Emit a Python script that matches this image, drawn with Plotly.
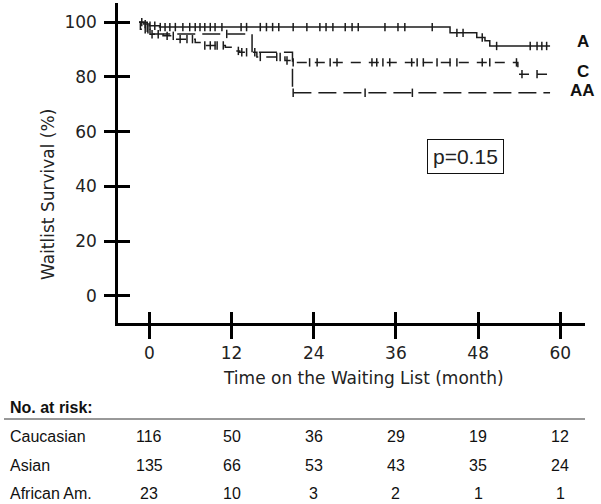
import plotly.graph_objects as go

# ---------------- data ----------------
# Kaplan-Meier step curves: time (months) and survival (%)
asian_t = [-1.5, -0.8, 0.0, 1.5, 43.9, 47.8, 49.0, 49.7, 58.5]
asian_s = [100, 99.3, 98.7, 98.2, 96.1, 94.4, 93.2, 91.3, 91.3]
asian_cens = [-1.1, -0.6, 0.1, 0.8, 1.6, 2.3, 3.0, 3.8, 4.9, 5.9, 6.7, 7.4, 8.1,
              8.9, 9.6, 10.6, 13.4, 14.2, 16.2, 17.1, 18.0, 18.9, 21.0, 23.0,
              24.9, 25.8, 26.8, 28.6, 29.6, 30.5, 34.4, 36.3, 37.3, 41.3, 44.9,
              45.8, 48.6, 50.7, 55.6, 56.6, 57.3, 58.0]

cauc_t = [-1.5, -1.3, 0.1, 2.0, 4.0, 6.7, 8.1, 11.1, 12.5, 13.2, 15.7, 19.8, 20.8, 53.8, 58.5]
cauc_s = [100, 97.4, 95.6, 95.0, 93.8, 92.6, 91.5, 90.8, 89.5, 89.0, 87.3, 86.0, 85.3, 81.0, 81.0]
cauc_cens = [-0.6, -0.2, 0.4, 1.3, 2.6, 3.5, 4.5, 5.5, 6.3, 8.1, 8.9, 9.6, 9.9,
             10.8, 13.0, 13.5, 14.2, 15.4, 16.2, 18.6, 19.1, 20.1, 21.0, 23.4,
             24.5, 26.4, 27.4, 32.5, 33.2, 34.1, 35.1, 38.3, 39.1, 40.0, 42.0,
             43.9, 44.9, 48.6, 49.7, 53.6, 54.4, 56.6]

aa_t = [-1.5, -0.3, 15.0, 20.9, 58.5]
aa_s = [100, 95.7, 89.0, 74.2, 74.2]
aa_cens = [11.3, 21.0, 31.5, 38.4]

x_ticks = [0, 12, 24, 36, 48, 60]
y_ticks = [0, 20, 40, 60, 80, 100]

risk_groups = ["Caucasian", "Asian", "African Am."]
risk_caucasian = [116, 50, 36, 29, 19, 12]
risk_asian = [135, 66, 53, 43, 35, 24]
risk_african = [23, 10, 3, 2, 1, 1]

curve_labels = ["A", "C", "AA"]
p_text = "p=0.15"
x_title = "Time on the Waiting List (month)"
y_title = "Waitlist Survival (%)"


def step_at(times, surv, t):
    v = surv[0]
    for ti, si in zip(times, surv):
        if ti <= t:
            v = si
    return v


INK = "#1c1c1c"
fig = go.Figure()

groups = [
    (asian_t, asian_s, asian_cens, "solid"),
    (cauc_t, cauc_s, cauc_cens, "10px,8px"),
    (aa_t, aa_s, aa_cens, "18px,7px"),
]
for t, s, cens, dash in groups:
    fig.add_trace(go.Scatter(x=t, y=s, mode="lines", line_shape="hv",
                             line=dict(color=INK, width=1.5, dash=dash),
                             showlegend=False, hoverinfo="skip"))
    fig.add_trace(go.Scatter(x=cens, y=[step_at(t, s, c) for c in cens],
                             mode="markers",
                             marker=dict(symbol="line-ns", size=6,
                                         line=dict(color=INK, width=1.5)),
                             showlegend=False, hoverinfo="skip"))

# invisible trace for the overlay axes (inner halves of crossing ticks)
fig.add_trace(go.Scatter(x=[None], y=[None], xaxis="x2", yaxis="y2",
                         showlegend=False, hoverinfo="skip"))

XR = [-4.57, 63.6]
YR = [-9.9, 107]
FONT = "DejaVu Sans"

fig.update_layout(
    width=601, height=504,
    margin=dict(l=118, r=16, t=3, b=181),
    plot_bgcolor="white", paper_bgcolor="white",
    showlegend=False,
    xaxis=dict(range=XR, tickvals=x_ticks, ticks="outside", ticklen=13,
               tickwidth=2.5, tickcolor="black", showline=True, linewidth=2.5,
               linecolor="black", showgrid=False, zeroline=False,
               tickfont=dict(family=FONT, size=17, color="#222")),
    yaxis=dict(range=YR, tickvals=y_ticks, ticks="outside", ticklen=11,
               tickwidth=2.5, tickcolor="black", showline=True, linewidth=2.5,
               linecolor="black", showgrid=False, zeroline=False,
               tickfont=dict(family=FONT, size=17, color="#222"),
               ticklabelstandoff=4),
    xaxis2=dict(range=XR, tickvals=x_ticks, overlaying="x", anchor="y",
                side="bottom", ticks="inside", ticklen=11, tickwidth=2.5,
                tickcolor="black", showticklabels=False, showline=False,
                showgrid=False, zeroline=False),
    yaxis2=dict(range=YR, tickvals=y_ticks, overlaying="y", anchor="x",
                side="left", ticks="inside", ticklen=12, tickwidth=2.5,
                tickcolor="black", showticklabels=False, showline=False,
                showgrid=False, zeroline=False),
)


def py2paper(py):
    return (323 - py) / 320.0


def px2paper(px):
    return (px - 118) / 467.0


# axis titles (placed as in the reference)
fig.add_annotation(x=px2paper(363), y=py2paper(378), xref="paper", yref="paper",
                   text=x_title, showarrow=False, xanchor="center", yanchor="middle",
                   font=dict(family=FONT, size=17, color="#222"))
fig.add_annotation(x=px2paper(48), y=py2paper(195), xref="paper", yref="paper",
                   text=y_title, textangle=-90, showarrow=False,
                   xanchor="center", yanchor="middle",
                   font=dict(family=FONT, size=17, color="#222"))

ARIAL = "Liberation Sans"
# curve labels
for lab, yv in zip(curve_labels, [92.8, 82.0, 75.0]):
    fig.add_annotation(x=63.3, y=yv, xref="x", yref="y", text="<b>%s</b>" % lab,
                       showarrow=False, xanchor="center", yanchor="middle",
                       font=dict(family=ARIAL, size=17, color="#111"))

# p-value box
fig.add_annotation(x=46.2, y=51.1, xref="x", yref="y", text=p_text,
                   showarrow=False, xanchor="center", yanchor="middle",
                   bordercolor="#111", borderwidth=1, borderpad=5,
                   font=dict(family=ARIAL, size=21, color="#222"))

# number-at-risk table
fig.add_annotation(x=px2paper(8), y=py2paper(407), xref="paper", yref="paper",
                   text="<b>No. at risk:</b>", showarrow=False, xanchor="left",
                   yanchor="middle", font=dict(family=ARIAL, size=16, color="#111"))
fig.add_shape(type="line", xref="paper", yref="paper", x0=px2paper(4), x1=1.0,
              y0=py2paper(419), y1=py2paper(419), line=dict(color="#333", width=1))

rows = [risk_caucasian, risk_asian, risk_african]
row_py = [436, 465, 493]
for name, vals, py in zip(risk_groups, rows, row_py):
    fig.add_annotation(x=px2paper(8), y=py2paper(py), xref="paper", yref="paper",
                       text=name, showarrow=False, xanchor="left", yanchor="middle",
                       font=dict(family=ARIAL, size=16, color="#111"))
    for xv, v in zip(x_ticks, vals):
        fig.add_annotation(x=xv, y=py2paper(py), xref="x", yref="paper",
                           text=str(v), showarrow=False, xanchor="center",
                           yanchor="middle",
                           font=dict(family=ARIAL, size=16, color="#111"))

fig.write_html("out.html", config={"displayModeBar": False},
               post_script="document.body.style.margin='0';"
                           "document.body.style.overflow='hidden';")
